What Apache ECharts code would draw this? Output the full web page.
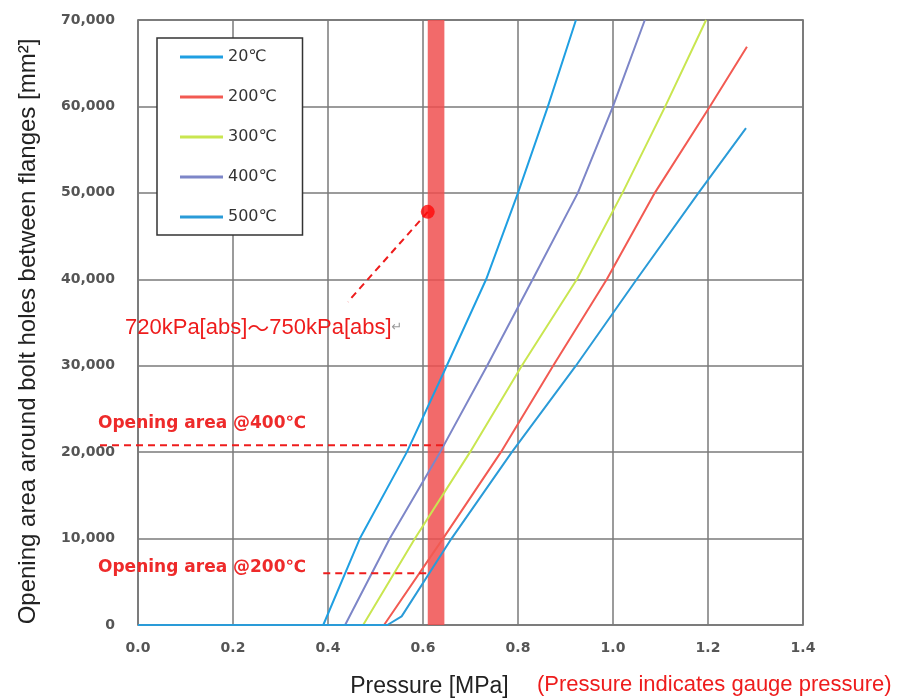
<!DOCTYPE html>
<html>
<head>
<meta charset="utf-8">
<script src="https://cdn.jsdelivr.net/npm/echarts@6/dist/echarts.min.js"></script>
<style>
  html, body { margin: 0; padding: 0; background: #fff; }
  #chart { width: 903px; height: 699px; }
</style>
</head>
<body>
<div id="chart"></div>
<script>
// legend names
const temps = ['20℃', '200℃', '300℃', '400℃', '500℃'];
const colors = ['#1f9fe2', '#f25a52', '#c9e650', '#7d86c8', '#2a9bd8'];

// curves: pressure [MPa] / opening area [mm2]
const p20 = [0, 0.39, 0.467, 0.566, 0.65, 0.733, 0.80, 0.863, 0.922];
const a20 = [0, 0, 10000, 20000, 30000, 40000, 50000, 60000, 70000];
const p200 = [0, 0.518, 0.642, 0.764, 0.874, 0.987, 1.088, 1.204, 1.282];
const a200 = [0, 0, 10000, 20000, 30000, 40000, 50000, 60000, 66900];
const p300 = [0, 0.474, 0.583, 0.699, 0.808, 0.924, 1.02, 1.11, 1.196];
const a300 = [0, 0, 10000, 20000, 30000, 40000, 50000, 60000, 70000];
const p400 = [0, 0.436, 0.53, 0.636, 0.735, 0.831, 0.926, 1.0, 1.067];
const a400 = [0, 0, 10000, 20000, 30000, 40000, 50000, 60000, 70000];
const p500 = [0, 0.525, 0.555, 0.66, 0.787, 0.922, 1.05, 1.18, 1.28];
const a500 = [0, 0, 1000, 10000, 20000, 30000, 40000, 50000, 57500];

// annotations
const bandRange = [0.61, 0.645];
const dotPoint = [0.61, 47800];
const leaderLine = [[0.61, 47800], [0.442, 37400]];
const line400 = [[-0.08, 20800], [0.646, 20800]];
const line200 = [[0.39, 6000], [0.61, 6000]];

const curvesP = [p20, p200, p300, p400, p500];
const curvesA = [a20, a200, a300, a400, a500];

function zip(xs, ys) {
  return xs.map((x, i) => [x, ys[i]]);
}

const chart = echarts.init(document.getElementById('chart'));

const curveSeries = temps.map((name, i) => ({
  name: name,
  type: 'line',
  symbol: 'none',
  z: 3,
  lineStyle: { color: colors[i], width: 2 },
  itemStyle: { color: colors[i] },
  data: zip(curvesP[i], curvesA[i])
}));

const dashed = { color: '#ee1c1c', width: 2, type: [7, 5] };

chart.setOption({
  animation: false,
  grid: {
    left: 138, right: 100, top: 20, bottom: 74,
    outerBoundsMode: 'none', containLabel: false,
    show: true, borderColor: '#5a5a5a', borderWidth: 1.5
  },
  legend: {
    data: temps,
    orient: 'vertical',
    left: 157, top: 38,
    icon: 'rect',
    itemWidth: 43, itemHeight: 3, itemGap: 22,
    padding: [10, 26, 9, 23],
    borderColor: '#333', borderWidth: 1.5,
    backgroundColor: '#fff',
    textStyle: { fontFamily: 'DejaVu Sans', fontSize: 16, color: '#333', lineHeight: 18 }
  },
  xAxis: {
    type: 'value', min: 0, max: 1.4, interval: 0.2,
    name: 'Pressure [MPa]', nameLocation: 'middle', nameGap: 50,
    nameTextStyle: {
      fontFamily: 'Liberation Sans', fontSize: 23, color: '#222',
      padding: [0, 82, 0, 0]
    },
    axisLine: { show: false }, axisTick: { show: false },
    axisLabel: {
      margin: 16, fontFamily: 'DejaVu Sans', fontWeight: 'bold', fontSize: 14, color: '#555',
      formatter: v => v.toFixed(1)
    },
    splitLine: { lineStyle: { color: '#7a7a7a', width: 1.5 } }
  },
  yAxis: {
    type: 'value', min: 0, max: 70000, interval: 10000,
    name: 'Opening area around bolt holes between flanges [mm²]',
    nameLocation: 'middle', nameGap: 98,
    nameTextStyle: {
      fontFamily: 'Liberation Sans', fontSize: 24, color: '#222',
      padding: [0, 18, 0, 0]
    },
    axisLine: { show: false }, axisTick: { show: false },
    axisLabel: {
      margin: 23, fontFamily: 'DejaVu Sans', fontWeight: 'bold', fontSize: 14, color: '#555',
      formatter: v => v.toLocaleString('en-US')
    },
    splitLine: { lineStyle: { color: '#7a7a7a', width: 1.5 } }
  },
  graphic: [
    {
      type: 'text', left: 125, top: 317, z: 20,
      style: {
        text: '{r|720kPa[abs]}{t|～}{r|750kPa[abs]}{g|↵}',
        rich: {
          r: { fontFamily: 'Liberation Sans', fontSize: 22, fill: '#ee1c1c' },
          t: { fontFamily: 'Noto Sans CJK JP', fontSize: 22, fill: '#ee1c1c' },
          g: { fontFamily: 'DejaVu Sans', fontSize: 13, fill: '#999' }
        }
      }
    },
    {
      type: 'text', left: 98, top: 415, z: 20,
      style: { text: 'Opening area @400℃', fontFamily: 'DejaVu Sans', fontWeight: 'bold', fontSize: 17, fill: '#ee2a2a' }
    },
    {
      type: 'text', left: 98, top: 559, z: 20,
      style: { text: 'Opening area @200℃', fontFamily: 'DejaVu Sans', fontWeight: 'bold', fontSize: 17, fill: '#ee2a2a' }
    },
    {
      type: 'text', left: 537, top: 674, z: 20,
      style: { text: '(Pressure indicates gauge pressure)', fontFamily: 'Liberation Sans', fontSize: 22, fill: '#ee1c1c' }
    }
  ],
  series: curveSeries.concat([
    {
      name: 'band',
      type: 'line',
      data: [],
      z: 6,
      markArea: {
        silent: true,
        itemStyle: { color: 'rgba(240, 80, 80, 0.85)' },
        data: [[{ xAxis: bandRange[0] }, { xAxis: bandRange[1] }]]
      }
    },
    {
      name: 'leader', type: 'line', symbol: 'none', z: 8,
      lineStyle: dashed, data: leaderLine
    },
    {
      name: 'line200', type: 'line', symbol: 'none', z: 8,
      lineStyle: dashed, data: line200
    },
    {
      name: 'dot', type: 'scatter', symbolSize: 14, z: 9,
      itemStyle: { color: '#ff0a0a' },
      data: [dotPoint]
    }
  ])
});

// the @400 guide starts left of the y axis, so place it through the scales as a graphic
const a = chart.convertToPixel({ gridIndex: 0 }, line400[0]);
const b = chart.convertToPixel({ gridIndex: 0 }, line400[1]);
chart.setOption({
  graphic: [{
    id: 'guide400', type: 'line', z: 15,
    shape: { x1: a[0], y1: a[1], x2: b[0], y2: b[1] },
    style: { stroke: dashed.color, lineWidth: 2, lineDash: dashed.type }
  }]
});
</script>
</body>
</html>
